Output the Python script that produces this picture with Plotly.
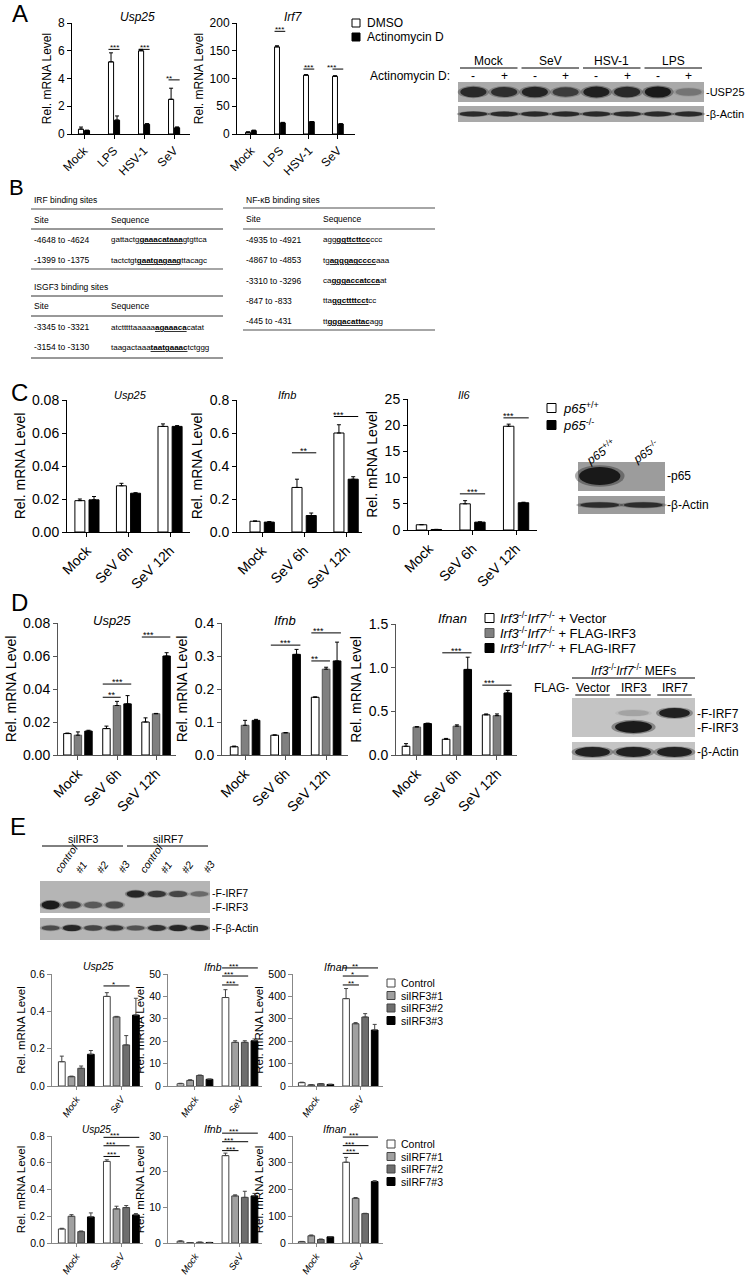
import plotly.graph_objects as go

# ======================= DATA =======================
# ---- Panel A ----
A_cats = ["Mock", "LPS", "HSV-1", "SeV"]
A_series = ["DMSO", "Actinomycin D"]
A_usp25 = [[0.35, 5.2, 6.0, 2.5], [0.25, 1.0, 0.7, 0.45]]
A_usp25_err = [[0.15, 0.65, 0.1, 0.8], [0.03, 0.3, 0.05, 0.06]]
A_irf7 = [[3, 157, 106, 104], [6, 20, 22, 18]]
A_irf7_err = [[1, 2, 1, 1], [1, 1, 0.5, 0.5]]
A_usp25_sig = [(1, 0, 1, 6.1, "***"), (2, 0, 1, 6.1, "***"), (3, 0, 1, 3.9, "**")]
A_irf7_sig = [(1, 0, 1, 185, "***"), (2, 0, 1, 117, "***"), (3, 0, 1, 117, "***")]
A_blot_groups = ["Mock", "SeV", "HSV-1", "LPS"]
A_blot_treat = ["-", "+", "-", "+", "-", "+", "-", "+"]
A_blot_usp25 = [0.85, 0.8, 0.9, 0.7, 0.95, 0.85, 1.0, 0.3]
A_blot_actin = [0.85, 0.85, 0.85, 0.85, 0.85, 0.85, 0.85, 0.85]

# ---- Panel B ----
IRF_sites = ["-4648 to -4624", "-1399 to -1375"]
IRF_seqs = [("gattactg", "gaaacataaa", "gtgttca"), ("tactctgt", "gaatgagaag", "ttacagc")]
ISGF3_sites = ["-3345 to -3321", "-3154 to -3130"]
ISGF3_seqs = [("atctttttaaaaa", "agaaaca", "catat"), ("taagactaaa", "taatgaaac", "tctggg")]
NFKB_sites = ["-4935 to -4921", "-4867 to -4853", "-3310 to -3296", "-847 to -833", "-445 to -431"]
NFKB_seqs = [("agg", "ggttcttcc", "ccc"), ("tg", "agggagcccc", "aaa"), ("ca", "gggaccatcca", "at"),
             ("tta", "ggcttttcct", "cc"), ("tt", "gggacattac", "agg")]

# ---- Panel C ----
C_cats = ["Mock", "SeV 6h", "SeV 12h"]
C_series = ["<i>p65</i><sup>+/+</sup>", "<i>p65</i><sup>-/-</sup>"]
C_usp25 = [[0.019, 0.028, 0.064], [0.0195, 0.0235, 0.064]]
C_usp25_err = [[0.001, 0.0015, 0.0015], [0.002, 0.0003, 0.0005]]
C_ifnb = [[0.065, 0.27, 0.60], [0.06, 0.10, 0.32]]
C_ifnb_err = [[0.002, 0.05, 0.05], [0.003, 0.015, 0.015]]
C_il6 = [[1.0, 5.0, 19.8], [0.1, 1.5, 5.2]]
C_il6_err = [[0.05, 0.6, 0.4], [0.02, 0.05, 0.1]]
C_ifnb_sig = [(1, 0, 1, 0.48, "**"), (2, 0, 1, 0.70, "***")]
C_il6_sig = [(1, 0, 1, 6.9, "***"), (2, 0, 1, 21.4, "***")]
C_blot_lanes = ["<i>p65</i><sup>+/+</sup>", "<i>p65</i><sup>-/-</sup>"]
C_blot_p65 = [1.0, 0.0]
C_blot_actin = [0.8, 0.8]

# ---- Panel D ----
D_cats = ["Mock", "SeV 6h", "SeV 12h"]
D_series = ["<i>Irf3</i><sup>-/-</sup><i>Irf7</i><sup>-/-</sup> + Vector",
            "<i>Irf3</i><sup>-/-</sup><i>Irf7</i><sup>-/-</sup> + FLAG-IRF3",
            "<i>Irf3</i><sup>-/-</sup><i>Irf7</i><sup>-/-</sup> + FLAG-IRF7"]
D_usp25 = [[0.013, 0.016, 0.020], [0.012, 0.030, 0.025], [0.0145, 0.031, 0.060]]
D_usp25_err = [[0.0003, 0.0015, 0.0025], [0.002, 0.0025, 0.0002], [0.0005, 0.005, 0.002]]
D_ifnb = [[0.025, 0.06, 0.175], [0.09, 0.067, 0.26], [0.105, 0.305, 0.285]]
D_ifnb_err = [[0.002, 0.001, 0.001], [0.015, 0.001, 0.006], [0.003, 0.015, 0.057]]
D_ifnan = [[0.10, 0.18, 0.46], [0.32, 0.33, 0.45], [0.36, 0.98, 0.71]]
D_ifnan_err = [[0.03, 0.01, 0.01], [0.005, 0.015, 0.02], [0.005, 0.14, 0.03]]
D_usp25_sig = [(1, 0, 1, 0.035, "**"), (1, 0, 2, 0.043, "***"), (2, 0, 2, 0.0715, "***")]
D_ifnb_sig = [(1, 0, 2, 0.333, "***"), (2, 0, 1, 0.285, "**"), (2, 0, 2, 0.37, "***")]
D_ifnan_sig = [(1, 0, 2, 1.17, "***"), (2, 0, 2, 0.80, "***")]
D_blot_lanes = ["Vector", "IRF3", "IRF7"]
D_blot_irf7 = [0.0, 0.15, 0.95]
D_blot_irf3 = [0.0, 1.0, 0.0]
D_blot_actin = [0.95, 0.95, 0.95]

# ---- Panel E ----
E_cats = ["Mock", "SeV"]
E1_series = ["Control", "siIRF3#1", "siIRF3#2", "siIRF3#3"]
E2_series = ["Control", "siIRF7#1", "siIRF7#2", "siIRF7#3"]
E1_usp25 = [[0.13, 0.48], [0.05, 0.37], [0.095, 0.22], [0.17, 0.38]]
E1_usp25_err = [[0.03, 0.02], [0.003, 0.003], [0.012, 0.05], [0.02, 0.09]]
E1_ifnb = [[1.0, 39.5], [2.5, 19.5], [4.7, 19.5], [3.0, 20.2]]
E1_ifnb_err = [[0.2, 3.5], [0.3, 0.7], [0.2, 0.7], [0.1, 0.8]]
E1_ifnan = [[15, 390], [5, 278], [10, 308], [7, 250]]
E1_ifnan_err = [[2, 45], [1, 5], [1, 15], [1, 25]]
E2_usp25 = [[0.105, 0.61], [0.2, 0.255], [0.085, 0.265], [0.195, 0.21]]
E2_usp25_err = [[0.005, 0.012], [0.012, 0.02], [0.005, 0.015], [0.03, 0.01]]
E2_ifnb = [[0.5, 24.5], [0.1, 13.2], [0.2, 12.8], [0.15, 13.2]]
E2_ifnb_err = [[0.1, 0.7], [0.02, 0.3], [0.05, 1.7], [0.02, 0.7]]
E2_ifnan = [[5, 302], [27, 167], [13, 110], [23, 230]]
E2_ifnan_err = [[1, 18], [3, 3], [2, 1], [1, 3]]
E1_usp25_sig = [(1, 0, 2, 0.536, "*")]
E1_ifnb_sig = [(1, 0, 1, 45.1, "***"), (1, 0, 2, 49.1, "***"), (1, 0, 3, 52.7, "***")]
E1_ifnan_sig = [(1, 0, 1, 451, "**"), (1, 0, 2, 491, "*"), (1, 0, 3, 527, "**")]
E2_usp25_sig = [(1, 0, 1, 0.647, "***"), (1, 0, 2, 0.727, "***"), (1, 0, 3, 0.79, "***")]
E2_ifnb_sig = [(1, 0, 1, 25.9, "***"), (1, 0, 2, 28.4, "***"), (1, 0, 3, 30.8, "***")]
E2_ifnan_sig = [(1, 0, 1, 335, "***"), (1, 0, 2, 364, "***"), (1, 0, 3, 396, "***")]
E_blot_groups = ["siIRF3", "siIRF7"]
E_blot_lanes = ["control", "#1", "#2", "#3", "control", "#1", "#2", "#3"]
E_blot_irf7 = [0, 0, 0, 0, 0.9, 0.75, 0.65, 0.4]
E_blot_irf3 = [1.0, 0.65, 0.5, 0.6, 0, 0, 0, 0]
E_blot_actin = [0.6, 0.9, 0.65, 0.75, 0.55, 0.8, 0.9, 0.85]

# ======================= LAYOUT HELPERS =======================
W, H = 745, 1276
FONT = "Liberation Sans, Arial, sans-serif"
NARROW = FONT


def X(px):
    return px / W


def Y(py):
    return 1 - py / H


fig = go.Figure()
shapes = []
annotations = []
layout_axes = {}


def text(px, py, s, size=12, family=FONT, xanchor="left", yanchor="middle", angle=0, color="black"):
    annotations.append(dict(x=X(px), y=Y(py), xref="paper", yref="paper", text=s, showarrow=False,
                            xanchor=xanchor, yanchor=yanchor, textangle=angle,
                            font=dict(size=size, family=family, color=color)))


def hline(x0, x1, py, color="black", width=1):
    shapes.append(dict(type="line", xref="paper", yref="paper", x0=X(x0), x1=X(x1), y0=Y(py), y1=Y(py),
                       line=dict(color=color, width=width)))


def rect(x0, x1, y0, y1, fill, line="black", lw=1):
    shapes.append(dict(type="rect", xref="paper", yref="paper", x0=X(x0), x1=X(x1), y0=Y(y1), y1=Y(y0),
                       fillcolor=fill, line=dict(color=line, width=lw)))


def add_chart(i, cats, vals, errs, fills, edges, xpx, ypx, xr, yr, dtick, fmt, sigs, step, bw,
              family=FONT, tsize=13, ysize=13, acolor="black", angle=-45, ital=False, ssize=9,
              ecolor="black", capw=2, standoff=3, xticklen=4, xtsize=None):
    xn = "x" if i == 1 else f"x{i}"
    yn = "y" if i == 1 else f"y{i}"
    n = len(vals)
    ng = len(cats)
    for j in range(n):
        off = (j - (n - 1) / 2) * step
        fig.add_trace(go.Bar(
            x=[k + off for k in range(ng)], y=vals[j], width=bw,
            marker=dict(color=fills[j], line=dict(color=edges[j], width=1)),
            error_y=dict(type="data", array=errs[j], arrayminus=[0] * ng, symmetric=False,
                         color=ecolor, thickness=1, width=capw),
            xaxis=xn, yaxis=yn, showlegend=False, hoverinfo="skip"))
    ticktext = [f"<i>{c}</i>" if ital else c for c in cats]
    xkey = "xaxis" if i == 1 else f"xaxis{i}"
    ykey = "yaxis" if i == 1 else f"yaxis{i}"
    layout_axes[xkey] = dict(domain=[X(xpx[0]), X(xpx[1])], range=xr, anchor=yn, automargin=False,
                             tickmode="array", tickvals=list(range(ng)), ticktext=ticktext,
                             tickangle=angle, showline=True, linecolor=acolor, linewidth=1,
                             ticks="outside", ticklen=xticklen, tickcolor=acolor, showgrid=False,
                             zeroline=False,
                             tickfont=dict(size=xtsize or tsize, family=family, color="black"),
                             fixedrange=True)
    layout_axes[ykey] = dict(domain=[Y(ypx[1]), Y(ypx[0])], range=yr, anchor=xn, automargin=False,
                             tick0=0, dtick=dtick, tickformat=fmt, showline=True, linecolor=acolor,
                             linewidth=1, ticks="outside", ticklen=4, tickcolor=acolor,
                             showgrid=False, zeroline=False,
                             tickfont=dict(size=tsize, family=family, color="black"),
                             title=dict(text="Rel. mRNA Level", standoff=standoff,
                                        font=dict(size=ysize, family=family, color="black")),
                             fixedrange=True)
    for (g, a, b, lev, txt) in sigs:
        x0 = g + (a - (n - 1) / 2) * step - bw / 2
        x1 = g + (b - (n - 1) / 2) * step + bw / 2
        fx0 = (x0 - xr[0]) / (xr[1] - xr[0])
        fx1 = (x1 - xr[0]) / (xr[1] - xr[0])
        fy = (lev - yr[0]) / (yr[1] - yr[0])
        shapes.append(dict(type="line", xref=f"{xn} domain", yref=f"{yn} domain",
                           x0=fx0, x1=fx1, y0=fy, y1=fy, line=dict(color="black", width=1)))
        annotations.append(dict(x=(fx0 + fx1) / 2, y=fy, xref=f"{xn} domain", yref=f"{yn} domain",
                                text=txt, showarrow=False, yanchor="bottom", yshift=-5,
                                font=dict(size=ssize, family=FONT, color="black")))


def legend(px, pys, names, fills, edges, size=12, family=FONT, sq=8, gap=5):
    for py, nm, f, e in zip(pys, names, fills, edges):
        rect(px, px + sq, py - sq / 2, py + sq / 2, f, line=e, lw=1)
        text(px + sq + gap, py, nm, size=size, family=family)


def blot(x0, x1, rows, bg, lanes, bands):
    for (ry0, ry1) in rows:
        rect(x0, x1, ry0, ry1, bg, line=bg, lw=0)
    lw = (x1 - x0) / lanes
    for (yc, hh, inten, wfrac) in bands:
        for k, v in enumerate(inten):
            if v <= 0:
                continue
            cx = x0 + lw * (k + 0.5)
            hw = lw * wfrac / 2
            h = hh * (0.55 + 0.45 * v)
            for sc, al in [(1.2, 0.35), (1.0, 0.92)]:
                shapes.append(dict(type="circle", xref="paper", yref="paper",
                                   x0=X(cx - hw * sc), x1=X(cx + hw * sc),
                                   y0=Y(yc + h * sc), y1=Y(yc - h * sc),
                                   fillcolor=f"rgba(18,18,18,{al * v:.3f})", line=dict(width=0)))


WHITE, BLACK = "white", "black"

# ======================= PANEL A =======================
text(10, 13, "A", size=24)
add_chart(1, A_cats, A_usp25, A_usp25_err, [WHITE, BLACK], [BLACK, BLACK],
          (72, 190), (23, 134), [-0.4, 3.53], [0, 8], 2, "d", A_usp25_sig, 0.2, 0.17,
          tsize=12, ysize=12, ssize=8)
add_chart(2, A_cats, A_irf7, A_irf7_err, [WHITE, BLACK], [BLACK, BLACK],
          (237, 355), (23, 134), [-0.48, 3.59], [0, 200], 50, "d", A_irf7_sig, 0.2, 0.17,
          tsize=12, ysize=12, ssize=8)
text(137, 17, "<i>Usp25</i>", size=12, xanchor="center")
text(293, 17, "<i>Irf7</i>", size=12, xanchor="center")
legend(352, [23, 37], A_series, [WHITE, BLACK], [BLACK, BLACK], size=12)

# A blot
ax0, ax1 = 458, 704
blot(ax0, ax1, [(82, 102), (106, 122)], "#a9a9a9", 8,
     [(92, 5.5, A_blot_usp25, 0.85), (114, 2.6, A_blot_actin, 0.9)])
alw = (ax1 - ax0) / 8
for gi, g in enumerate(A_blot_groups):
    gx0 = ax0 + alw * 2 * gi + 2
    gx1 = ax0 + alw * 2 * (gi + 1) - 2
    text((gx0 + gx1) / 2, 61, g, size=12, xanchor="center")
    hline(gx0, gx1, 68, width=1)
for k, t in enumerate(A_blot_treat):
    text(ax0 + alw * (k + 0.5), 76, t, size=12, xanchor="center")
text(452, 76, "Actinomycin D:", size=12, xanchor="right")
text(704, 92, "-USP25", size=11)
text(704, 114, "-β-Actin", size=11)

# ======================= PANEL B =======================
text(7, 187, "B", size=22)
TS = 8.5
SS = 8


def seq_html(p):
    return f'{p[0]}<span style="text-decoration:underline"><b>{p[1]}</b></span>{p[2]}'


# left table (IRF)
L0, L1, LS = 31, 223, 109
text(L0 + 1, 200, "IRF binding sites", size=TS, family=NARROW)
hline(L0, L1, 209, color="#888888", width=1.5)
text(L0 + 1, 220, "Site", size=TS, family=NARROW)
text(LS, 220, "Sequence", size=TS, family=NARROW)
hline(L0, L1, 229, color="#333333", width=1)
for r, (s, q) in enumerate(zip(IRF_sites, IRF_seqs)):
    text(L0 + 1, 240 + 20 * r, s, size=TS, family=NARROW)
    text(LS, 240 + 20 * r, seq_html(q), size=SS, family=NARROW)
hline(L0, L1, 269, color="#888888", width=1.5)
# ISGF3
text(L0 + 1, 287, "ISGF3 binding sites", size=TS, family=NARROW)
hline(L0, L1, 296, color="#333333", width=1)
text(L0 + 1, 306, "Site", size=TS, family=NARROW)
text(LS, 306, "Sequence", size=TS, family=NARROW)
hline(L0, L1, 316, color="#333333", width=1)
for r, (s, q) in enumerate(zip(ISGF3_sites, ISGF3_seqs)):
    text(L0 + 1, 327 + 20 * r, s, size=TS, family=NARROW)
    text(LS, 327 + 20 * r, seq_html(q), size=SS, family=NARROW)
hline(L0, L1, 358, color="#333333", width=1)
# right table (NF-kB)
R0, R1, RS = 243, 435, 321
text(R0 + 1, 200, "NF-κB binding sites", size=TS, family=NARROW)
hline(R0, R1, 208, color="#888888", width=1.5)
text(R0 + 1, 219, "Site", size=TS, family=NARROW)
text(RS, 219, "Sequence", size=TS, family=NARROW)
hline(R0, R1, 229, color="#888888", width=1.5)
for r, (s, q) in enumerate(zip(NFKB_sites, NFKB_seqs)):
    text(R0 + 1, 240 + 20.3 * r, s, size=TS, family=NARROW)
    text(RS, 240 + 20.3 * r, seq_html(q), size=SS, family=NARROW)
hline(R0, R1, 330, color="#888888", width=1.5)

# ======================= PANEL C =======================
text(9, 392, "C", size=24)
add_chart(3, C_cats, C_usp25, C_usp25_err, [WHITE, BLACK], [BLACK, BLACK],
          (67, 190), (400, 532), [-0.48, 2.48], [0, 0.08], 0.02, ".2f", [], 0.34, 0.24,
          tsize=14, ysize=14)
add_chart(4, C_cats, C_ifnb, C_ifnb_err, [WHITE, BLACK], [BLACK, BLACK],
          (237, 362), (400, 532), [-0.6, 2.38], [0, 0.8], 0.2, ".1f", C_ifnb_sig, 0.34, 0.24,
          tsize=14, ysize=14)
add_chart(5, C_cats, C_il6, C_il6_err, [WHITE, BLACK], [BLACK, BLACK],
          (408, 537), (399, 530), [-0.48, 2.48], [0, 25], 5, "d", C_il6_sig, 0.34, 0.24,
          tsize=14, ysize=14)
text(130, 395, "<i>Usp25</i>", size=11, xanchor="center")
text(287, 395, "<i>Ifnb</i>", size=11, xanchor="center")
text(464, 395, "<i>Il6</i>", size=11, xanchor="center")
legend(547, [408, 425], C_series, [WHITE, BLACK], [BLACK, BLACK], size=13, sq=9)
# C blot
blot(578, 665, [(462, 491), (496, 514)], "#9c9c9c", 2,
     [(476, 9, C_blot_p65, 0.95), (505, 3, C_blot_actin, 0.9)])
text(600, 452, C_blot_lanes[0], size=12, xanchor="center", angle=-35)
text(645, 452, C_blot_lanes[1], size=12, xanchor="center", angle=-35)
text(665, 476, "-p65", size=12)
text(665, 505, "-β-Actin", size=12)

# ======================= PANEL D =======================
GRAY = "#808080"
text(9, 602, "D", size=24)
add_chart(6, D_cats, D_usp25, D_usp25_err, [WHITE, GRAY, BLACK], [BLACK, "#555555", BLACK],
          (58, 176), (623, 755), [-0.51, 2.51], [0, 0.08], 0.02, ".2f", D_usp25_sig, 0.27, 0.19,
          tsize=14, ysize=14, acolor="#555555")
add_chart(7, D_cats, D_ifnb, D_ifnb_err, [WHITE, GRAY, BLACK], [BLACK, "#555555", BLACK],
          (222, 348), (623, 755), [-0.57, 2.54], [0, 0.4], 0.1, ".1f", D_ifnb_sig, 0.27, 0.19,
          tsize=14, ysize=14, acolor="#555555")
add_chart(8, D_cats, D_ifnan, D_ifnan_err, [WHITE, GRAY, BLACK], [BLACK, "#555555", BLACK],
          (396, 517), (624, 755), [-0.52, 2.5], [0, 1.5], 0.5, ".1f", D_ifnan_sig, 0.27, 0.19,
          tsize=14, ysize=14, acolor="#555555")
text(112, 620, "<i>Usp25</i>", size=13, xanchor="center")
text(285, 620, "<i>Ifnb</i>", size=13, xanchor="center")
text(452, 618, "<i>Ifnan</i>", size=13, xanchor="center")
legend(485, [618, 633, 648], D_series, [WHITE, GRAY, BLACK], [BLACK, "#555555", BLACK],
       size=13, sq=9, gap=4)
# D blot
dx0, dx1 = 572, 695
blot(dx0, dx1, [(698, 737), (742, 760)], "#c4c4c4", 3,
     [(713, 5, D_blot_irf7, 0.75), (727, 6, D_blot_irf3, 0.9), (752, 5, D_blot_actin, 0.85)])
text(633, 670, "<i>Irf3</i><sup>-/-</sup><i>Irf7</i><sup>-/-</sup> MEFs", size=12, xanchor="center")
hline(572, 695, 678)
text(571, 688, "FLAG-", size=12, xanchor="right")
dlw = (dx1 - dx0) / 3
for k, lname in enumerate(D_blot_lanes):
    cx = dx0 + dlw * (k + 0.5)
    text(cx, 688, lname, size=12, xanchor="center")
    hline(cx - dlw * 0.42, cx + dlw * 0.42, 695)
text(695, 714, "-F-IRF7", size=12)
text(695, 728, "-F-IRF3", size=12)
text(695, 752, "-β-Actin", size=12)

# ======================= PANEL E =======================
text(8, 826, "E", size=24)
# E blot
ex0, ex1 = 40, 210
blot(ex0, ex1, [(881, 913), (918, 940)], "#b5b5b5", 8,
     [(894, 3.6, E_blot_irf7, 0.85), (905, 4.2, E_blot_irf3, 0.85), (928, 3.2, E_blot_actin, 0.85)])
elw = (ex1 - ex0) / 8
for gi, g in enumerate(E_blot_groups):
    gx0 = ex0 + elw * 4 * gi + 2
    gx1 = ex0 + elw * 4 * (gi + 1) - 2
    text((gx0 + gx1) / 2, 839, g, size=10.5, family=NARROW, xanchor="center")
    hline(gx0, gx1, 846)
for k, lname in enumerate(E_blot_lanes):
    text(ex0 + elw * (k + 0.5) - 2, 878, f"<i>{lname}</i>", size=10.5, family=NARROW,
         xanchor="left", yanchor="bottom", angle=-55)
text(210, 893, "-F-IRF7", size=10.5, family=NARROW)
text(210, 907, "-F-IRF3", size=10.5, family=NARROW)
text(210, 928, "-F-β-Actin", size=10.5, family=NARROW)

EF = [WHITE, "#a0a0a0", "#6e6e6e", BLACK]
EE = ["#444444", "#444444", "#444444", BLACK]
ekw = dict(family=NARROW, tsize=10.5, ysize=11.5, acolor="#888888", angle=-55, ital=True, ssize=8,
           ecolor="#444444", standoff=2, xticklen=3, xtsize=9.5)
add_chart(9, E_cats, E1_usp25, E1_usp25_err, EF, EE, (52, 143), (974, 1086), [-0.54, 1.48],
          [0, 0.6], 0.2, ".1f", E1_usp25_sig, 0.215, 0.15, **ekw)
add_chart(10, E_cats, E1_ifnb, E1_ifnb_err, EF, EE, (168, 262), (974, 1086), [-0.6, 1.49],
          [0, 50], 10, "d", E1_ifnb_sig, 0.215, 0.15, **ekw)
add_chart(11, E_cats, E1_ifnan, E1_ifnan_err, EF, EE, (293, 383), (974, 1086), [-0.52, 1.51],
          [0, 500], 100, "d", E1_ifnan_sig, 0.215, 0.15, **ekw)
add_chart(12, E_cats, E2_usp25, E2_usp25_err, EF, EE, (52, 143), (1136, 1243), [-0.54, 1.48],
          [0, 0.8], 0.2, ".1f", E2_usp25_sig, 0.215, 0.15, **ekw)
add_chart(13, E_cats, E2_ifnb, E2_ifnb_err, EF, EE, (168, 262), (1136, 1243), [-0.6, 1.49],
          [0, 30], 10, "d", E2_ifnb_sig, 0.215, 0.15, **ekw)
add_chart(14, E_cats, E2_ifnan, E2_ifnan_err, EF, EE, (293, 383), (1136, 1243), [-0.52, 1.51],
          [0, 400], 100, "d", E2_ifnan_sig, 0.215, 0.15, **ekw)
text(98, 966, "<i>Usp25</i>", size=10.5, family=NARROW, xanchor="center")
text(213, 967, "<i>Ifnb</i>", size=10.5, family=NARROW, xanchor="center")
text(336, 967, "<i>Ifnan</i>", size=10.5, family=NARROW, xanchor="center")
text(96, 1129, "<i>Usp25</i>", size=10, family=NARROW, xanchor="center")
text(213, 1129, "<i>Ifnb</i>", size=10.5, family=NARROW, xanchor="center")
text(335, 1129, "<i>Ifnan</i>", size=10.5, family=NARROW, xanchor="center")
legend(387, [983, 995.5, 1008, 1020.5], E1_series, EF, EE, size=10.5, family=NARROW, sq=8, gap=4)
legend(387, [1144, 1156.5, 1169, 1181.5], E2_series, EF, EE, size=10.5, family=NARROW, sq=8, gap=4)

fig.update_layout(width=W, height=H, margin=dict(l=0, r=0, t=0, b=0, autoexpand=False),
                  paper_bgcolor="white", plot_bgcolor="white", showlegend=False,
                  font=dict(family=FONT, color="black"), barmode="overlay",
                  shapes=shapes, annotations=annotations, **layout_axes)
fig.write_html("out.html", config={"displayModeBar": False, "staticPlot": True},
               post_script="document.body.style.margin='0px';document.body.style.overflow='hidden';")
